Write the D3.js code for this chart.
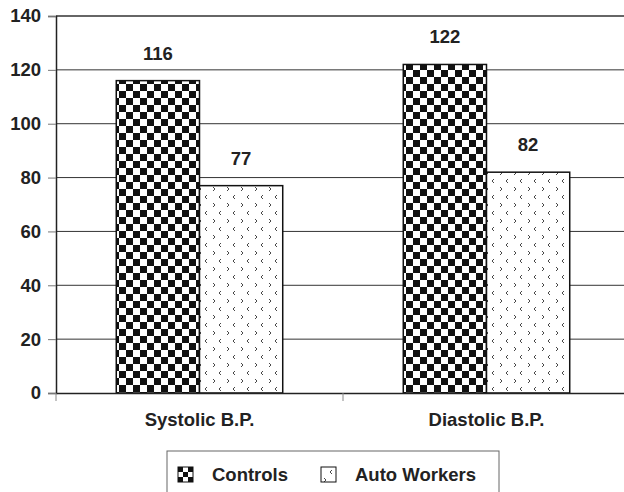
<!DOCTYPE html>
<html>
<head>
<meta charset="utf-8">
<script src="https://cdn.jsdelivr.net/npm/d3@7"></script>
<style>
body { margin: 0; background: #fff; }
svg text { font-family: "Liberation Sans", Arial, sans-serif; font-weight: bold; fill: #222; }
</style>
</head>
<body>
<div class="chart"></div>
<script>
// data
var categories = ["Systolic B.P.", "Diastolic B.P."];
var series = ["Controls", "Auto Workers"];
var controls = [116, 122];
var autoWorkers = [77, 82];
var yTicks = [0, 20, 40, 60, 80, 100, 120, 140];

var w = 624, h = 492;
var plotL = 56, plotT = 16, plotB = 393, plotR = 630;
var fs = "18.5px";

var svg = d3.select(".chart").append("svg")
  .attr("width", w)
  .attr("height", h);

var defs = svg.append("defs");

// checker pattern for controls
function checker(id, c) {
  var p = defs.append("pattern")
    .attr("id", id)
    .attr("patternUnits", "userSpaceOnUse")
    .attr("width", c * 2).attr("height", c * 2);
  p.append("rect").attr("width", c * 2).attr("height", c * 2).attr("fill", "#fff");
  p.append("rect").attr("width", c).attr("height", c).attr("fill", "#111");
  p.append("rect").attr("x", c).attr("y", c).attr("width", c).attr("height", c).attr("fill", "#111");
}
checker("checker", 7);
checker("checkerSm", 5);

// small chevrons for auto workers
var dots = defs.append("pattern")
  .attr("id", "chev")
  .attr("patternUnits", "userSpaceOnUse")
  .attr("width", 14).attr("height", 16);
dots.append("rect").attr("width", 14).attr("height", 16).attr("fill", "#fff");
dots.append("path").attr("d", "M11,3 L9,5 L11,7").attr("fill", "none").attr("stroke", "#333").attr("stroke-width", 0.9);
dots.append("path").attr("d", "M3,11 L5,13 L3,15").attr("fill", "none").attr("stroke", "#333").attr("stroke-width", 0.9);

var fills = ["url(#checker)", "url(#chev)"];
var legFills = ["url(#checkerSm)", "url(#chev)"];

var x0 = d3.scaleBand().domain(categories).range([plotL, plotR]);
var gap = x0.bandwidth() * 0.21;
var x1 = d3.scaleBand().domain(series).range([gap, x0.bandwidth() - gap]);
var y = d3.scaleLinear().domain([0, 140]).range([plotB, plotT]);

// grid lines
svg.append("g").selectAll("line")
  .data(yTicks.slice(1))
  .enter().append("line")
  .attr("x1", plotL).attr("x2", plotR)
  .attr("y1", function(d) { return y(d); })
  .attr("y2", function(d) { return y(d); })
  .attr("stroke", "#333")
  .attr("stroke-width", function(d) { return d == 140 ? 1.6 : 1; });

// y axis
var yAxis = d3.axisLeft(y).tickValues(yTicks).tickSize(8).tickPadding(7);
var gy = svg.append("g").attr("transform", "translate(" + plotL + ",0)").call(yAxis);
gy.select(".domain").attr("stroke", "#222").attr("stroke-width", 1.5);
gy.selectAll(".tick line").attr("stroke", "#777");
gy.selectAll("text").style("font-size", fs).attr("fill", "#222");

// bars
var rows = categories.map(function(c, i) {
  return [{cat: c, s: series[0], v: controls[i]}, {cat: c, s: series[1], v: autoWorkers[i]}];
});
var groups = svg.append("g").selectAll("g")
  .data(rows)
  .enter().append("g")
  .attr("transform", function(d) { return "translate(" + x0(d[0].cat) + ",0)"; });

groups.selectAll("rect")
  .data(function(d) { return d; })
  .enter().append("rect")
  .attr("x", function(d) { return x1(d.s); })
  .attr("y", function(d) { return y(d.v); })
  .attr("width", x1.bandwidth())
  .attr("height", function(d) { return y(0) - y(d.v); })
  .attr("fill", function(d, i) { return fills[i]; })
  .attr("stroke", "#111")
  .attr("stroke-width", 1.5);

groups.selectAll("text.val")
  .data(function(d) { return d; })
  .enter().append("text")
  .attr("class", "val")
  .attr("x", function(d) { return x1(d.s) + x1.bandwidth() / 2; })
  .attr("y", function(d) { return y(d.v) - 21; })
  .attr("text-anchor", "middle")
  .style("font-size", fs)
  .text(function(d) { return d.v; });

// x axis
var xAxis = d3.axisBottom(x0).tickSize(0).tickPadding(20);
var gx = svg.append("g").attr("transform", "translate(0," + plotB + ")").call(xAxis);
gx.select(".domain").attr("stroke", "#222").attr("stroke-width", 1.5);
gx.selectAll("text").style("font-size", fs).attr("fill", "#222");
// category separators
svg.append("g").selectAll("line")
  .data(categories)
  .enter().append("line")
  .attr("x1", function(d) { return x0(d); })
  .attr("x2", function(d) { return x0(d); })
  .attr("y1", plotB).attr("y2", plotB + 8)
  .attr("stroke", "#888");

// legend
var lg = svg.append("g");
lg.append("rect")
  .attr("x", 167).attr("y", 451)
  .attr("width", 332).attr("height", 60)
  .attr("fill", "none").attr("stroke", "#666").attr("stroke-width", 1);
var lx = [178, 321];
var li = lg.selectAll("g").data(series).enter().append("g")
  .attr("transform", function(d, i) { return "translate(" + lx[i] + ",467)"; });
li.append("rect")
  .attr("width", 15).attr("height", 15)
  .attr("fill", function(d, i) { return legFills[i]; })
  .attr("stroke", "#111").attr("stroke-width", 1);
li.append("text")
  .attr("x", function(d, i) { return i == 0 ? 34 : 34; })
  .attr("y", 14)
  .style("font-size", fs)
  .text(function(d) { return d; });
</script>
</body>
</html>
